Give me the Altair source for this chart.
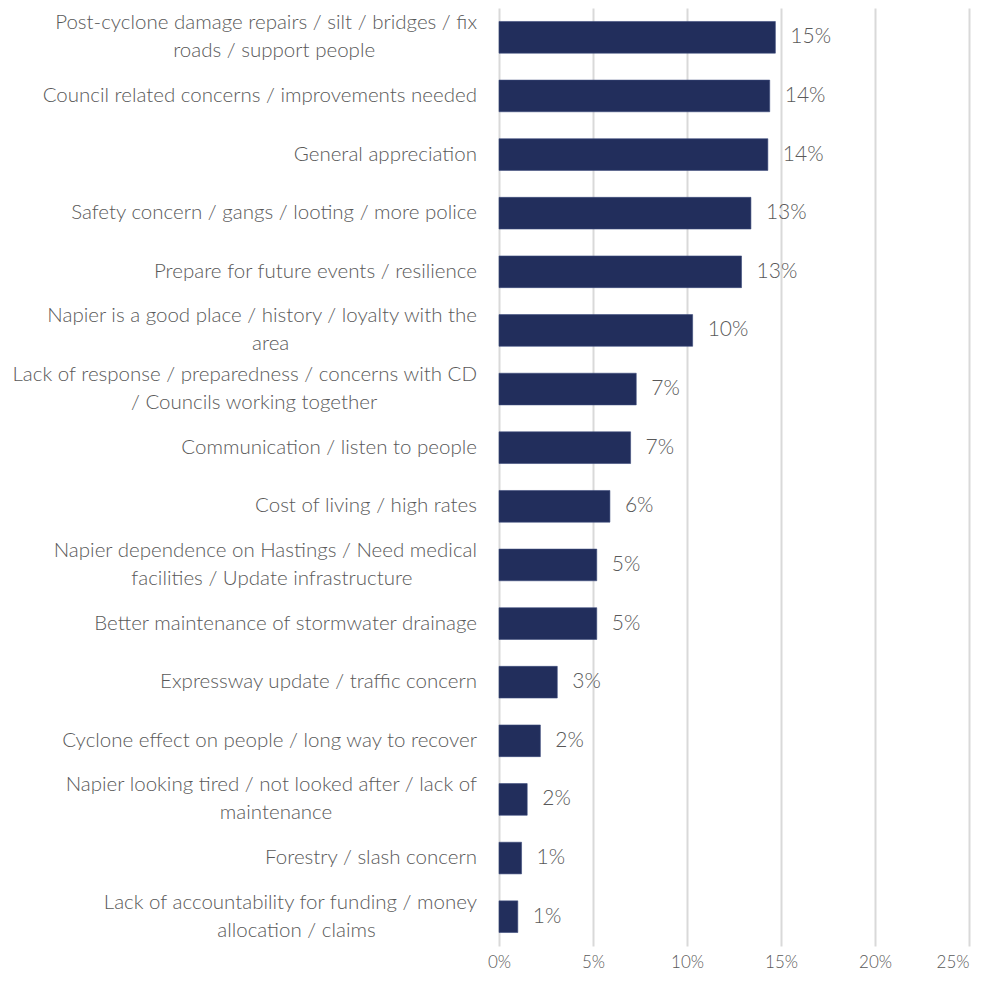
import altair as alt
import pandas as pd

# ---- data ----
categories = [
    ["Post-cyclone damage repairs / silt / bridges / fix", "roads / support people"],
    ["Council related concerns / improvements needed"],
    ["General appreciation"],
    ["Safety concern / gangs / looting / more police"],
    ["Prepare for future events / resilience"],
    ["Napier is a good place / history / loyalty with the", "area"],
    ["Lack of response / preparedness / concerns with CD", "/ Councils working together"],
    ["Communication / listen to people"],
    ["Cost of living / high rates"],
    ["Napier dependence on Hastings / Need medical", "facilities /  Update infrastructure"],
    ["Better maintenance of stormwater drainage"],
    ["Expressway update / traffic concern"],
    ["Cyclone effect on people / long way to recover"],
    ["Napier looking tired / not looked after /  lack of", "maintenance"],
    ["Forestry / slash concern"],
    ["Lack of accountability for funding / money", "allocation /  claims"],
]
values = [0.147, 0.144, 0.143, 0.134, 0.129, 0.103, 0.073, 0.070,
          0.059, 0.052, 0.052, 0.031, 0.022, 0.015, 0.012, 0.010]
value_labels = ["15%", "14%", "14%", "13%", "13%", "10%", "7%", "7%",
                "6%", "5%", "5%", "3%", "2%", "2%", "1%", "1%"]
x_ticks = [0, 0.05, 0.10, 0.15, 0.20, 0.25]

# ---- styling ----
FONT = "Lato"
TXT = "#595959"
BAR = "#222E5C"
LBL_SIZE = 20.5
W, H = 470, 938
LABEL_GAP = 22  # gap between label right edge and the axis

# approximate advance widths (em) for centring 2nd lines
_w = {" ": .26, "/": .368, "-": .32, "a": .556, "b": .613, "c": .476, "d": .613,
      "e": .561, "f": .339, "g": .548, "h": .614, "i": .253, "j": .253, "k": .525,
      "l": .253, "m": .93, "n": .614, "o": .604, "p": .613, "q": .613, "r": .408,
      "s": .477, "t": .353, "u": .614, "v": .5, "w": .778, "x": .524, "y": .502,
      "z": .468, "C": .617, "D": .72, "H": .73, "L": .51, "N": .765, "P": .6}


def text_width(s, size):
    return sum(_w.get(ch, .6) for ch in s) * size * 0.9


keys = [" ".join(c) for c in categories]
df = pd.DataFrame({
    "key": keys,
    "value": values,
    "vlabel": value_labels,
    "line1": [c[0] for c in categories],
    "line2": [c[1] if len(c) > 1 else "" for c in categories],
    "nlines": [len(c) for c in categories],
})
df["l2x"] = [-LABEL_GAP - text_width(c[0], LBL_SIZE) / 2 if len(c) > 1 else 0
             for c in categories]

y_enc = alt.Y("key:N", sort=keys, axis=None,
              scale=alt.Scale(paddingInner=0.46, paddingOuter=0.23))

base = alt.Chart(df)

bars = base.mark_bar(color=BAR, stroke="#3a4a7a", strokeWidth=0.6).encode(
    x=alt.X("value:Q",
            scale=alt.Scale(domain=[0, 0.25], nice=False),
            axis=alt.Axis(values=x_ticks, format=".0%", title=None,
                          grid=True, gridColor="#d9d9d9", gridWidth=2,
                          domain=False, ticks=False, labelPadding=8,
                          labelFlush=False,
                          labelAlign=alt.expr("datum.value >= 0.25 ? 'right' : 'center'"),
                          labelFont=FONT, labelFontSize=17, labelColor=TXT,
                          labelFontWeight=300)),
    y=y_enc,
)

vals = base.mark_text(align="left", baseline="middle", dx=15, font=FONT,
                      fontSize=21, fontWeight=300, color=TXT).encode(
    x="value:Q", y=y_enc, text="vlabel:N")

single = base.transform_filter("datum.nlines == 1").mark_text(
    align="right", baseline="middle", font=FONT, fontSize=LBL_SIZE,
    fontWeight=300, color=TXT).encode(
    x=alt.value(-LABEL_GAP), y=y_enc, text="line1:N")

first = base.transform_filter("datum.nlines == 2").mark_text(
    align="right", baseline="middle", dy=-14, font=FONT, fontSize=LBL_SIZE,
    fontWeight=300, color=TXT).encode(
    x=alt.value(-LABEL_GAP), y=y_enc, text="line1:N")

second = base.transform_filter("datum.nlines == 2").mark_text(
    align="center", baseline="middle", dy=14, font=FONT, fontSize=LBL_SIZE,
    fontWeight=300, color=TXT).encode(
    x=alt.X("l2x:Q", scale=None), y=y_enc, text="line2:N")

chart = alt.layer(bars, vals, single, first, second).properties(
    width=W, height=H,
    background="white",
    autosize=alt.AutoSizeParams(type="none"),
    padding={"left": 491, "top": 0, "right": 11, "bottom": 34},
).configure_view(stroke=None)

chart.save("out.html", embed_options={"renderer": "svg", "actions": False})
